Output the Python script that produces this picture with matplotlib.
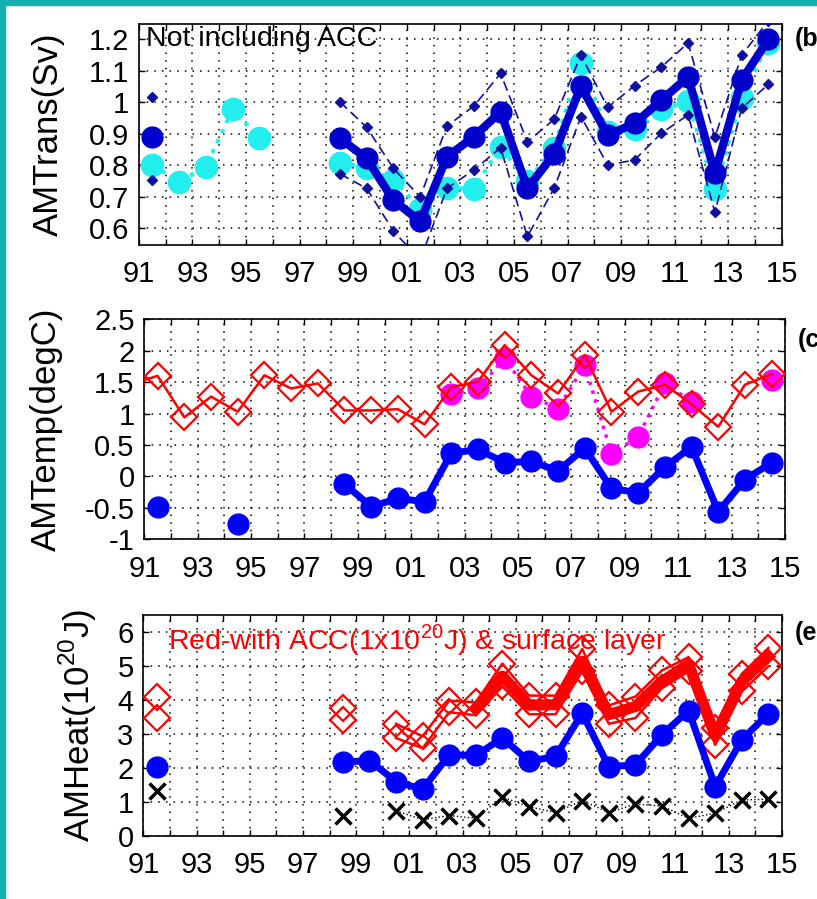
import numpy as np
import matplotlib
matplotlib.use("Agg")
import matplotlib.pyplot as plt
from matplotlib.patches import Rectangle

plt.rcParams['font.family'] = ['Liberation Sans', 'DejaVu Sans']
plt.rcParams['mathtext.fontset'] = 'custom'
plt.rcParams['mathtext.rm'] = 'Liberation Sans'

nan = np.nan

# mid-year positions 1991.5 ... 2014.5
years = np.arange(1991.5, 2015.0, 1.0)
years_temp_red = np.arange(1990.5, 2015.0, 1.0)

# panel (b): AM transport (Sv)
trans_blue = [0.89, nan, nan, nan, nan, nan, nan, 0.886, 0.822, 0.689, 0.622, 0.827,
              0.891, 0.970, 0.727, 0.836, 1.051, 0.896, 0.933, 1.007, 1.081, 0.775, 1.071, 1.200]
trans_cyan = [0.801, 0.748, 0.796, 0.978, 0.887, nan, nan, 0.809, 0.793, 0.755, 0.66, 0.729,
              0.725, 0.859, 0.75, 0.855, 1.125, 0.905, 0.915, 0.978, 1.005, 0.725, 1.014, 1.19]
trans_hi = [1.016, nan, nan, nan, nan, nan, nan, 1.002, 0.921, 0.79, 0.70, 0.925,
            0.988, 1.092, 0.875, 0.946, 1.150, 0.984, 1.053, 1.112, 1.189, 0.889, 1.150, 1.26]
trans_lo = [0.753, nan, nan, nan, nan, nan, nan, 0.773, 0.727, 0.591, 0.50, 0.727,
            0.785, 0.856, 0.574, 0.727, 0.955, 0.801, 0.817, 0.902, 0.960, 0.651, 0.981, 1.058]

# panel (c): AM temperature (degC)
temp_red = [1.47, 1.60, 0.94, 1.27, 1.03, 1.61, 1.40, 1.48, 1.05, 1.05, 1.07, 0.83, 1.42,
            1.51, 2.09, 1.61, 1.32, 1.93, 1.03, 1.35, 1.46, 1.15, 0.79, 1.46, 1.63]
temp_mag = [nan, nan, nan, nan, nan, nan, nan, nan, nan, nan, nan, 1.31,
            1.40, 1.88, 1.27, 1.08, 1.77, 0.36, 0.63, 1.48, 1.19, nan, nan, 1.54]
temp_blue = [-0.48, nan, nan, -0.76, nan, nan, nan, -0.12, -0.48, -0.35, -0.40, 0.37,
             0.43, 0.22, 0.24, 0.09, 0.45, -0.19, -0.26, 0.15, 0.47, -0.56, -0.05, 0.22]

# panel (e): AM heat (1e20 J)
heat_hi = [4.09, nan, nan, nan, nan, nan, nan, 3.76, nan, 3.30, 2.93, 3.98,
           3.93, 5.07, 4.13, 4.13, 5.50, 3.84, 4.10, 4.87, 5.26, 3.17, 4.77, 5.53]
heat_lo = [3.47, nan, nan, nan, nan, nan, nan, 3.40, nan, 2.88, 2.58, 3.64,
           3.55, 4.40, 3.58, 3.58, 4.84, 3.30, 3.47, 4.35, 4.84, 2.68, 4.25, 4.99]
heat_mid = [nan, nan, nan, nan, nan, nan, nan, nan, nan, nan, nan, nan,
            3.75, 4.70, 3.85, 3.86, 5.14, 3.57, 3.81, 4.55, 5.05, 2.95, 4.55, 5.28]
heat_blue = [2.04, nan, nan, nan, nan, nan, nan, 2.17, 2.22, 1.60, 1.37, 2.39,
             2.37, 2.88, 2.20, 2.34, 3.61, 2.04, 2.09, 2.98, 3.69, 1.45, 2.83, 3.60]
heat_x = [1.31, nan, nan, nan, nan, nan, nan, 0.60, nan, 0.74, 0.48, 0.60,
          0.52, 1.15, 0.86, 0.69, 1.04, 0.69, 0.94, 0.88, 0.52, 0.67, 1.06, 1.08]

xticks = np.arange(1991, 2016)
xlabels = ['%02d' % (y % 100) if y % 2 == 1 else '' for y in xticks]

fig = plt.figure(figsize=(8.17, 8.99), dpi=100)
fig.patch.set_facecolor('white')
teal = '#14AFAF'
fig.patches.append(Rectangle((0, 0), 5 / 817, 1, transform=fig.transFigure,
                             color=teal, zorder=0))
fig.patches.append(Rectangle((0, 1 - 5 / 899), 1, 5 / 899, transform=fig.transFigure,
                             color=teal, zorder=0))

ax1 = fig.add_axes([0.170, 0.7275, 0.787, 0.2458])
ax2 = fig.add_axes([0.1766, 0.4001, 0.7842, 0.2447])
ax3 = fig.add_axes([0.1754, 0.0701, 0.7814, 0.2458])


def style(ax, yticks, ylabels, ylim):
    ax.set_xlim(1991, 2015)
    ax.set_ylim(*ylim)
    ax.set_xticks(xticks)
    ax.set_xticklabels(xlabels)
    ax.set_yticks(yticks)
    ax.set_yticklabels(ylabels)
    ax.tick_params(direction='in', top=True, right=True, length=4, width=1,
                   labelsize=21)
    ax.tick_params(axis='x', pad=11)
    ax.tick_params(axis='y', pad=7)
    ax.grid(True, color='black', linestyle=(0, (1, 4)), linewidth=1.1)
    for s in ax.spines.values():
        s.set_linewidth(1.2)


# (b)
ax1.plot(years, trans_cyan, ':', color='#22EEEE', lw=3, marker='o', ms=16, mec='#22EEEE', zorder=2)
ax1.plot(years, trans_hi, color='#1010A0', lw=1.2, ls=(0, (6, 3)), marker='D', ms=5, zorder=3)
ax1.plot(years, trans_lo, color='#1010A0', lw=1.2, ls=(0, (6, 3)), marker='D', ms=5, zorder=3)
ax1.plot(years, trans_blue, '-', color='#0000CD', lw=6, marker='o', ms=15, zorder=4)
style(ax1, np.arange(0.6, 1.21, 0.1),
      ['0.6', '0.7', '0.8', '0.9', '1', '1.1', '1.2'], (0.547, 1.249))
ax1.set_ylabel('AMTrans(Sv)', fontsize=25)
ax1.yaxis.set_label_coords(-0.115, 0.5)
ax1.text(0.011, 0.93, 'Not including ACC', transform=ax1.transAxes, fontsize=20.5,
         va='center', ha='left', zorder=6)
ax1.text(1.02, 0.93, '(b', transform=ax1.transAxes, fontsize=18, fontweight='bold',
         va='center', ha='left')

# (c)
ax2.plot(years, temp_mag, ':', color='magenta', lw=2.5, marker='o', ms=15, mec='magenta', zorder=2)
ax2.plot(years_temp_red, temp_red, '-', color='red', lw=1.8, marker='D', ms=13,
         mfc='none', mec='red', mew=1.6, zorder=3)
ax2.plot(years, temp_blue, '-', color='blue', lw=5, marker='o', ms=15, zorder=4)
style(ax2, np.arange(-1, 2.51, 0.5),
      ['-1', '-0.5', '0', '0.5', '1', '1.5', '2', '2.5'], (-1, 2.5))
ax2.set_ylabel('AMTemp(degC)', fontsize=25)
ax2.yaxis.set_label_coords(-0.127, 0.5)
ax2.text(1.02, 0.906, '(c', transform=ax2.transAxes, fontsize=18, fontweight='bold',
         va='center', ha='left')

# (e)
ax3.plot(years, heat_mid, '-', color='red', lw=8, zorder=2)
ax3.plot(years, heat_hi, '-', color='red', lw=1.8, marker='D', ms=13,
         mfc='none', mec='red', mew=1.6, zorder=3)
ax3.plot(years, heat_lo, '-', color='red', lw=1.8, marker='D', ms=13,
         mfc='none', mec='red', mew=1.6, zorder=3)
ax3.plot(years, heat_blue, '-', color='blue', lw=5, marker='o', ms=15, zorder=4)
ax3.plot(years, heat_x, ':', color='black', lw=1, marker='x', ms=11, mew=2.5, zorder=4)
style(ax3, np.arange(0, 7), [str(v) for v in range(7)], (0, 6.5))
ax3.set_ylabel('AMHeat(10$^{20}$J)', fontsize=25)
ax3.yaxis.set_label_coords(-0.069, 0.5)
ax3.text(0.038, 0.887, 'Red-with ACC(1x10$^{20}$J) & surface layer', transform=ax3.transAxes,
         fontsize=20.5, color='red', va='center', ha='left', zorder=6)
ax3.text(1.02, 0.92, '(e', transform=ax3.transAxes, fontsize=18, fontweight='bold',
         va='center', ha='left')

fig.savefig('out.png', dpi=100)
